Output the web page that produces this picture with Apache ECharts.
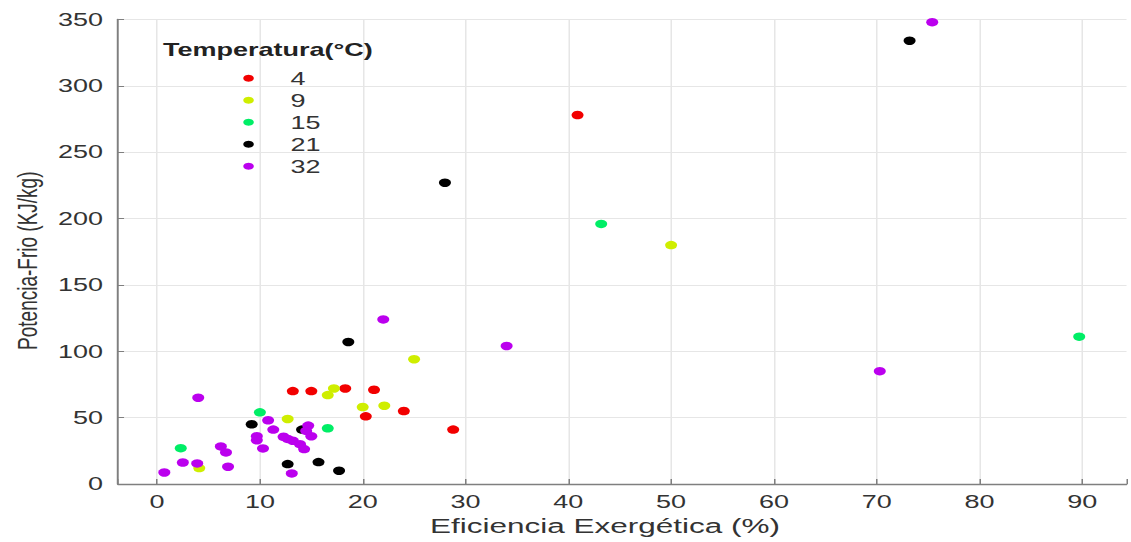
<!DOCTYPE html>
<html>
<head>
<meta charset="utf-8">
<script src="https://cdn.jsdelivr.net/npm/echarts@6/dist/echarts.min.js"></script>
<style>
  html, body { margin: 0; padding: 0; background: #ffffff; overflow: hidden; }
  #wrap { width: 1131px; height: 542px; overflow: hidden; }
  /* the figure is drawn at 2/3 width and widened by 1.5 */
  #chart { width: 754px; height: 542px; transform: scaleX(1.5); transform-origin: 0 0; }
</style>
</head>
<body>
<div id="wrap"><div id="chart"></div></div>
<script>
// Temperature groups (°C)
const temperatures = ['4', '9', '15', '21', '32'];

// [Eficiencia Exergética (%), Potencia-Frio (KJ/kg)] per temperature
const t4 = [[13.2, 70], [15.0, 70], [18.3, 72], [21.1, 71], [20.3, 51], [24.0, 55], [28.8, 41], [40.9, 278]];
const t9 = [[17.2, 72], [16.6, 67], [20.0, 58], [22.1, 59], [12.7, 49], [25.0, 94], [4.1, 12], [50.0, 180]];
const t15 = [[10.0, 54], [16.6, 42], [2.3, 27], [43.2, 196], [89.7, 111]];
const t21 = [[18.6, 107], [9.2, 45], [14.1, 41], [12.7, 15], [15.7, 16.5], [17.7, 10], [28.0, 227], [73.2, 334]];
const t32 = [[22.0, 124], [4.0, 65], [10.8, 48], [14.7, 44], [14.5, 40], [11.3, 41], [15.0, 36], [9.7, 36],
             [9.7, 33], [12.3, 35.6], [12.7, 34], [13.2, 32.6], [13.9, 30], [14.3, 26.3], [10.3, 26.8],
             [6.2, 28.3], [6.7, 23.8], [2.5, 16.2], [3.9, 15.5], [6.9, 13], [0.7, 8.7], [13.1, 8],
             [34.0, 104], [70.3, 85], [75.4, 348]];

const groups = [t4, t9, t15, t21, t32];
const palette = ['#f20000', '#cfee00', '#00ee66', '#000000', '#bb00ee'];

// axis tick values
const xTicks = [0, 10, 20, 30, 40, 50, 60, 70, 80, 90];
const yTicks = [0, 50, 100, 150, 200, 250, 300, 350];

const axisColor = '#7f7f7f';
const textColor = '#333333';
const gridColor = '#e6e6e6';
const font = 'Liberation Sans, Arial, sans-serif';

const chart = echarts.init(document.getElementById('chart'), null, { renderer: 'svg' });

chart.setOption({
  animation: false,
  backgroundColor: '#ffffff',
  textStyle: { fontFamily: font },
  color: palette,
  title: {
    text: 'Temperatura(°C)',
    left: 108.7,
    top: 41,
    padding: 0,
    textStyle: { fontFamily: font, fontSize: 18, fontWeight: 'bold', color: '#222222', lineHeight: 18 }
  },
  legend: {
    data: temperatures,
    orient: 'vertical',
    left: 162.2,
    top: 69.3,
    padding: 0,
    itemWidth: 8,
    itemHeight: 7,
    itemGap: 4,
    icon: 'circle',
    textStyle: { fontFamily: font, fontSize: 18, color: textColor, lineHeight: 18, padding: [0, 0, 0, 19] }
  },
  grid: { left: 78.7, right: 2, top: 19.5, bottom: 58, containLabel: false },
  xAxis: {
    type: 'value',
    min: -3.8,
    max: 94.3,
    splitNumber: 10,
    name: 'Eficiencia Exergética (%)',
    nameLocation: 'middle',
    nameGap: 28,
    nameTextStyle: { fontFamily: font, fontSize: 21, color: textColor, padding: [0, 23, 0, 0] },
    axisLine: { show: true, onZero: false, lineStyle: { color: axisColor, width: 1.3 } },
    axisTick: { show: true, inside: true, length: 5, lineStyle: { color: axisColor } },
    axisLabel: {
      margin: 9,
      fontFamily: font,
      fontSize: 18,
      color: textColor,
      formatter: function (v) {
        const r = Math.round(v);
        return xTicks.indexOf(r) >= 0 && Math.abs(v - r) < 1e-6 ? String(r) : '';
      }
    },
    splitLine: { show: true, showMinLine: false, showMaxLine: false, lineStyle: { color: gridColor, width: 1 } }
  },
  yAxis: {
    type: 'value',
    min: yTicks[0],
    max: yTicks[yTicks.length - 1],
    interval: 50,
    name: 'Potencia-Frio (KJ/kg)',
    nameLocation: 'middle',
    nameGap: 48,
    nameTextStyle: { fontFamily: font, fontSize: 19, color: textColor, padding: [0, 18, 0, 0] },
    axisLine: { show: true, onZero: false, lineStyle: { color: axisColor, width: 1.3 } },
    axisTick: { show: true, inside: true, length: 4, lineStyle: { color: axisColor } },
    axisLabel: { margin: 10, fontFamily: font, fontSize: 18, color: textColor },
    splitLine: { show: true, showMinLine: false, lineStyle: { color: gridColor, width: 1 } }
  },
  series: temperatures.map(function (t, i) {
    return {
      name: t,
      type: 'scatter',
      data: groups[i],
      symbol: 'circle',
      symbolSize: [8, 8.5],
      itemStyle: { color: palette[i], opacity: 1 }
    };
  })
});
</script>
</body>
</html>
